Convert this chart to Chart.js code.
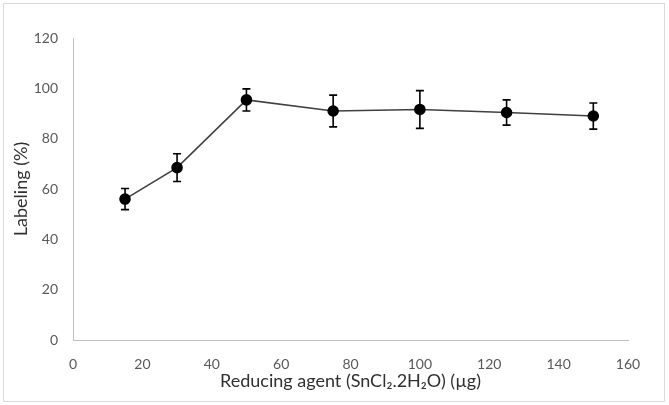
<!DOCTYPE html>
<html>
<head>
<meta charset="utf-8">
<script src="https://cdn.jsdelivr.net/npm/chart.js@4"></script>
<style>
  html, body { margin: 0; padding: 0; background: #fff; }
  #frame {
    position: absolute; left: 3px; top: 3px;
    width: 660px; height: 397px;
    border: 1px solid #d9d9d9;
  }
  #wrap { position: absolute; left: 0; top: 0; width: 669px; height: 405px; }
</style>
</head>
<body>
<div id="frame"></div>
<div id="wrap"><canvas id="chart" width="669" height="405"></canvas></div>
<script>
// 數據
const xValues = [15, 30, 50, 75, 100, 125, 150];
const labeling = [56.0, 68.5, 95.4, 91.0, 91.6, 90.4, 89.0];
const errors = [4.2, 5.5, 4.4, 6.3, 7.5, 5.0, 5.2];
const xTicks = [0, 20, 40, 60, 80, 100, 120, 140, 160];
const yTicks = [0, 20, 40, 60, 80, 100, 120];

const FONT = "Lato, 'Open Sans', sans-serif";

// 誤差線
const errorBars = {
    id: 'errorBars',
    afterDatasetsDraw(chart) {
        const { ctx, scales: { x, y } } = chart;
        ctx.save();
        ctx.strokeStyle = '#000';
        ctx.lineWidth = 1.6;
        xValues.forEach((v, i) => {
            const px = x.getPixelForValue(v);
            const top = y.getPixelForValue(labeling[i] + errors[i]);
            const bot = y.getPixelForValue(labeling[i] - errors[i]);
            ctx.beginPath();
            ctx.moveTo(px, top); ctx.lineTo(px, bot);
            ctx.moveTo(px - 4, top); ctx.lineTo(px + 4, top);
            ctx.moveTo(px - 4, bot); ctx.lineTo(px + 4, bot);
            ctx.stroke();
        });
        ctx.restore();
    },
};

new Chart(document.getElementById('chart'), {
    type: 'scatter',
    data: {
        datasets: [{
            data: xValues.map((v, i) => ({ x: v, y: labeling[i] })),
            showLine: true,
            borderColor: '#404040',
            borderWidth: 1.6,
            pointRadius: 5,
            pointBackgroundColor: '#000',
            pointBorderColor: '#000',
        }],
    },
    options: {
        responsive: false,
        animation: false,
        layout: { padding: { top: 38, right: 41, left: 0, bottom: 0 } },
        plugins: { legend: { display: false }, tooltip: { enabled: false } },
        scales: {
            x: {
                type: 'linear',
                min: 0, max: 160,
                afterBuildTicks(s) { s.ticks = xTicks.map(v => ({ value: v })); },
                afterFit(s) { s.height = 65; },
                grid: { display: false, drawTicks: false },
                border: { display: true, color: '#bfbfbf', width: 1 },
                ticks: { color: '#595959', font: { family: FONT, size: 14 }, padding: 16, maxRotation: 0 },
                title: {
                    display: true,
                    text: 'Reducing agent (SnCl\u2082.2H\u2082O) (\u00b5g)',
                    color: '#303030',
                    font: { family: FONT, size: 18 },
                    padding: { top: 0, bottom: 13 },
                },
            },
            y: {
                min: 0, max: 120,
                afterBuildTicks(s) { s.ticks = yTicks.map(v => ({ value: v })); },
                afterFit(s) { s.width = 73; },
                grid: { display: false, drawTicks: false },
                border: { display: true, color: '#bfbfbf', width: 1 },
                ticks: { color: '#595959', font: { family: FONT, size: 14 }, padding: 15 },
                title: {
                    display: true,
                    text: 'Labeling (%)',
                    color: '#303030',
                    font: { family: FONT, size: 18 },
                    padding: { top: 10, bottom: 0 },
                },
            },
        },
    },
    plugins: [errorBars],
});
</script>
</body>
</html>
